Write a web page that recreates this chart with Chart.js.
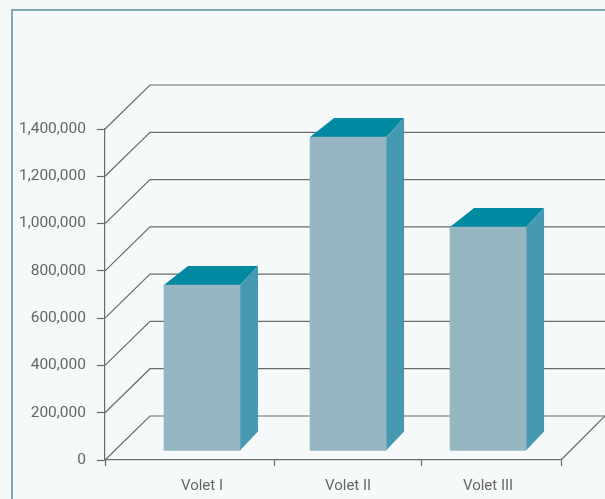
<!DOCTYPE html>
<html><head><meta charset="utf-8">
<style>html,body{margin:0;padding:0;background:#f6f9fa;overflow:hidden}canvas{display:block}</style>
<script src="https://cdn.jsdelivr.net/npm/chart.js@4"></script></head>
<body><div style="width:605px;height:499px;position:relative"><canvas id="c"></canvas></div>
<script>
const categories = ['Volet I', 'Volet II', 'Volet III'];
const values = [702000, 1328000, 947000];
const yTicks = [0, 200000, 400000, 600000, 800000, 1000000, 1200000, 1400000];

// Chart furniture: the original's slots are not evenly wide.
const slotCentres = [0.638, 1.599, 2.52];
const slotEdges = [0, 1.112, 2.079, 3];
const DEPTH = 44, BAR_DEPTH_Y = 19, BAR_DEPTH_R = 18, BAR_DEPTH_L = 24, BAR_LIFT = 9;
const LINE = '#6b6b6b';

const frame3d = {
  id: 'frame3d',
  beforeDraw(chart) {
    const { ctx, width, height } = chart, a = chart.chartArea, y = chart.scales.y;
    ctx.save();
    ctx.fillStyle = '#f6f9fa'; ctx.fillRect(0, 0, width, height);
    ctx.strokeStyle = '#7ba9b5'; ctx.lineWidth = 2;
    ctx.beginPath(); ctx.moveTo(605, 10); ctx.lineTo(12, 10); ctx.lineTo(12, 499); ctx.stroke();
    ctx.strokeStyle = LINE; ctx.lineWidth = 1.2;
    yTicks.forEach(v => {
      const p = y.getPixelForValue(v);
      ctx.beginPath();
      ctx.moveTo(a.left, p); ctx.lineTo(a.left + DEPTH + 1, p - DEPTH); ctx.lineTo(605, p - DEPTH);
      ctx.stroke();
    });
    ctx.beginPath(); ctx.moveTo(a.right, a.bottom); ctx.lineTo(605, a.bottom - DEPTH); ctx.stroke();
    ctx.restore();
  },
  beforeDatasetsDraw(chart) {
    const { ctx } = chart;
    ctx.save();
    ctx.translate(0, -BAR_LIFT);
    chart.getDatasetMeta(0).data.forEach(b => {
      const p = b.getProps(['x', 'y', 'base', 'width'], true);
      const l = p.x - p.width / 2, r = p.x + p.width / 2;
      ctx.fillStyle = '#0089a0';
      ctx.beginPath(); ctx.moveTo(l, p.y); ctx.lineTo(l + BAR_DEPTH_L, p.y - BAR_DEPTH_Y);
      ctx.lineTo(r + BAR_DEPTH_R, p.y - BAR_DEPTH_Y); ctx.lineTo(r, p.y); ctx.closePath(); ctx.fill();
      ctx.fillStyle = '#4799b2';
      ctx.beginPath(); ctx.moveTo(r, p.y); ctx.lineTo(r + BAR_DEPTH_R, p.y - BAR_DEPTH_Y);
      ctx.lineTo(r + BAR_DEPTH_R, p.base - BAR_DEPTH_Y); ctx.lineTo(r, p.base); ctx.closePath(); ctx.fill();
    });
  },
  afterDatasetsDraw(chart) { chart.ctx.restore(); }
};

new Chart(document.getElementById('c'), {
  type: 'bar',
  data: {
    datasets: [{
      data: categories.map((c, i) => ({ x: slotCentres[i], y: values[i] })),
      backgroundColor: '#96b7c1',
      barThickness: 76
    }]
  },
  options: {
    responsive: true, maintainAspectRatio: false, animation: false,
    layout: { padding: { top: 129, right: 44, left: 0, bottom: 0 } },
    plugins: { legend: { display: false }, tooltip: { enabled: false } },
    scales: {
      x: {
        type: 'linear', min: 0, max: 3, offset: false,
        afterFit(s) { s.height = 39; },
        afterBuildTicks(s) {
          s.ticks = [...slotEdges, ...slotCentres].sort((a, b) => a - b).map(value => ({ value }));
        },
        grid: {
          drawOnChartArea: false, offset: false, tickLength: 6, tickWidth: 1.2,
          tickColor: c => (c.tick && slotCentres.includes(c.tick.value)) ? 'transparent' : LINE
        },
        border: { color: LINE, width: 1.2 },
        ticks: {
          autoSkip: false, maxRotation: 0, minRotation: 0, padding: 11, color: '#666',
          font: { family: 'Roboto', size: 15 },
          callback: v => { const i = slotCentres.indexOf(v); return i < 0 ? '' : categories[i]; }
        }
      },
      y: {
        min: 0, max: 1400000,
        afterFit(s) { s.width = 105; },
        afterBuildTicks(s) { s.ticks = yTicks.map(value => ({ value })); },
        grid: { drawOnChartArea: false, tickLength: 8, tickWidth: 1.2, tickColor: LINE },
        border: { color: LINE, width: 1.2 },
        ticks: {
          padding: 11, color: '#666', font: { family: 'Roboto', size: 15.5 },
          callback: v => v.toLocaleString('en-US')
        }
      }
    }
  },
  plugins: [frame3d]
});
</script></body></html>
